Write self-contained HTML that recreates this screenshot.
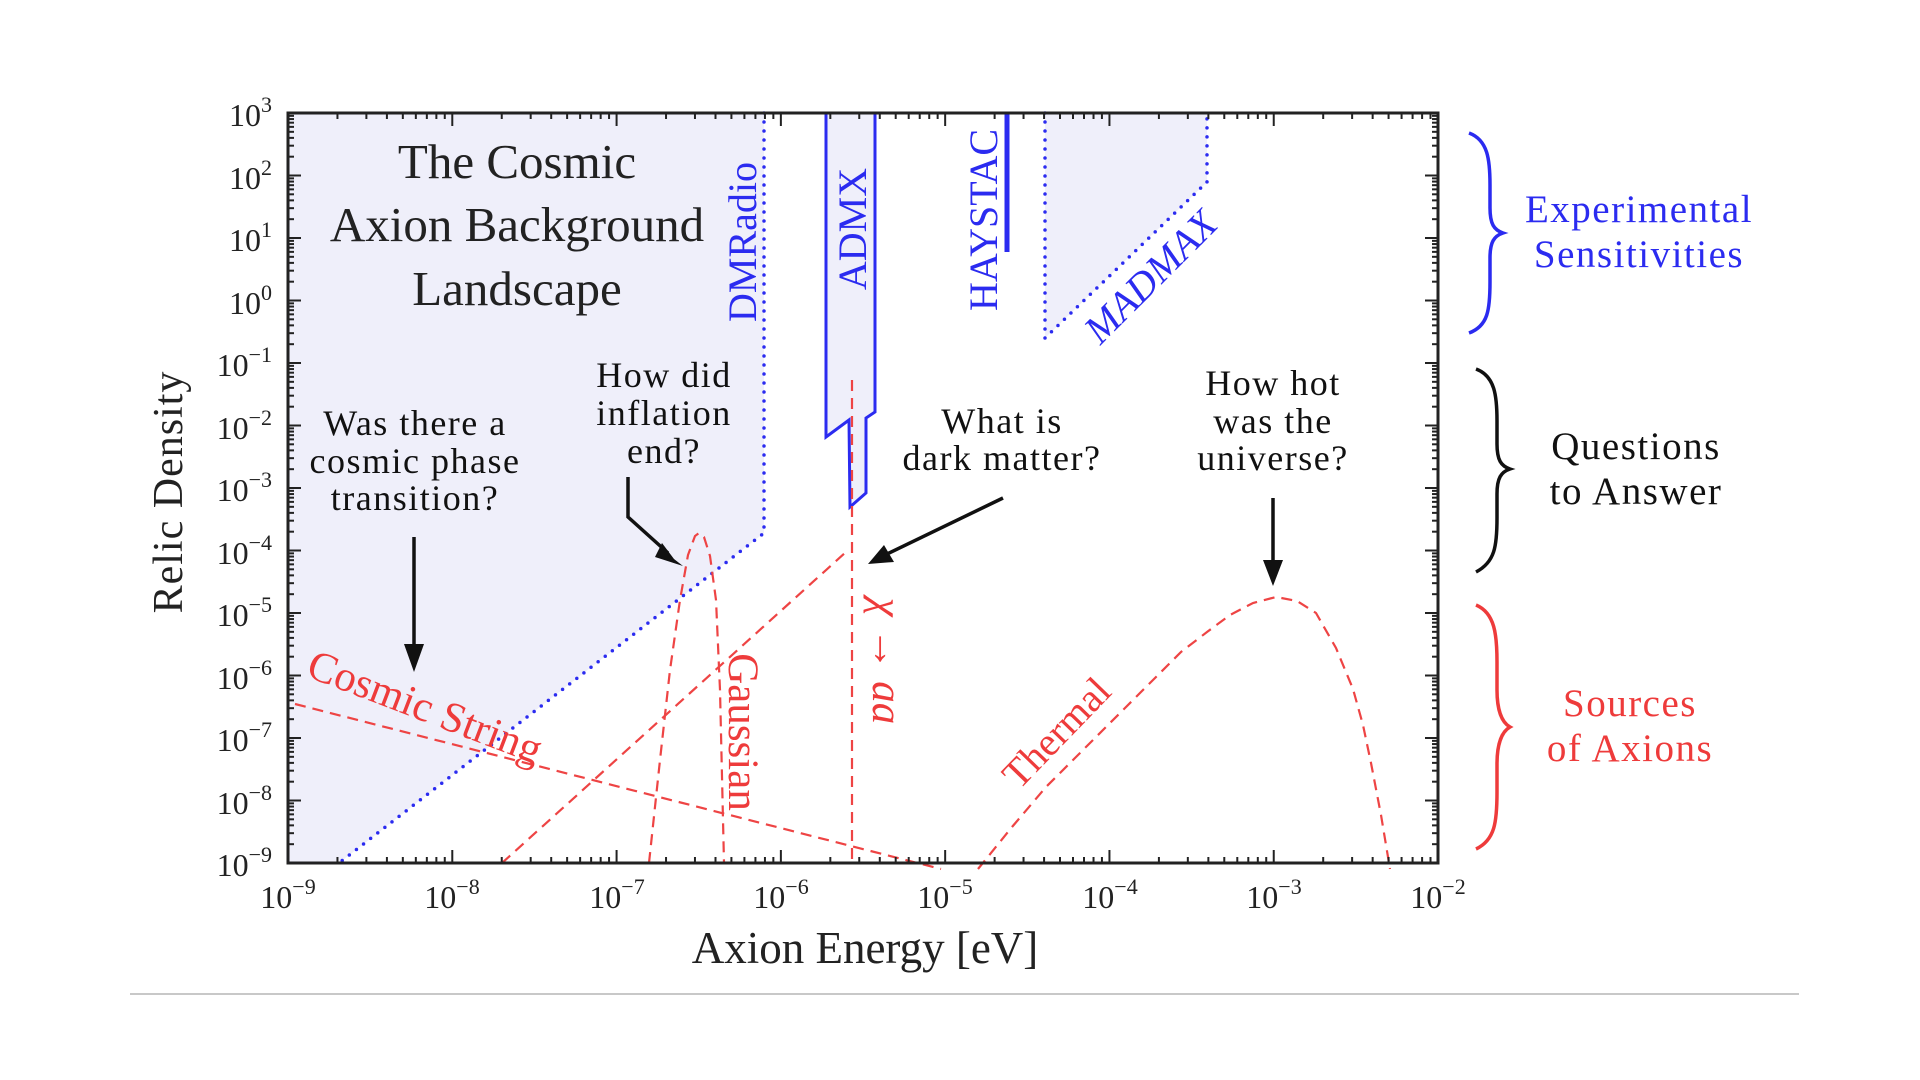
<!DOCTYPE html>
<html><head><meta charset="utf-8"><style>
html,body{margin:0;padding:0;background:#fff;width:1920px;height:1080px;overflow:hidden}
svg{display:block}
text{font-family:"Liberation Serif",serif}
</style></head><body>
<svg id="s" width="1920" height="1080" viewBox="0 0 1920 1080" xmlns="http://www.w3.org/2000/svg">
<line x1="130" y1="994" x2="1799" y2="994" stroke="#c8c8c8" stroke-width="2"/>
<polygon points="288,113 764,113 764,533 339,863 288,863" fill="#efeffa"/>
<polygon points="1045,113 1045,338 1207,182 1207,113" fill="#efeffa"/>
<polygon points="826,113 826,437 849,420 850,507 866,493 866,418 875,412 875,113" fill="#efeffa"/>
<g fill="none" stroke="#2b2bf0" stroke-width="3.5" stroke-linecap="round" stroke-dasharray="0 9">
<polyline points="764,113 764,533 339,863"/>
<polyline points="1045,113 1045,338 1207,182 1207,113"/>
</g>
<polyline points="826,113 826,437 849,420 850,507 866,493 866,418 875,412 875,113" fill="none" stroke="#2b2bf0" stroke-width="3"/>
<line x1="1007" y1="113" x2="1007" y2="252" stroke="#2b2bf0" stroke-width="5"/>
<g fill="none" stroke="#ee4444" stroke-width="2.2" stroke-dasharray="11 7">
<line x1="295" y1="704" x2="941" y2="869"/>
<line x1="502" y1="863" x2="846" y2="552"/>
<line x1="852" y1="380" x2="852" y2="863"/>
<polyline points="649,863 660,760 670,670 680,600 688,555 695,536 699,533 704,537 710,556 716,600 720,690 724,863"/>
<path d="M978,869 L1012,827 1046,787 1077,756 1107,726 1145,688 1181,652 1207,632 1230,615 1253,603 1276,597 1297,601 1316,613 1336,648 1353,689 1363,725 1371,763 1381,815 1390,869"/>
</g>
<rect x="288" y="113" width="1150" height="750" fill="none" stroke="#222" stroke-width="3"/>
<g id="ticks" stroke="#222" stroke-width="2"></g>
<g stroke="#111" stroke-width="3.5" fill="none">
<line x1="414" y1="537" x2="414" y2="650"/>
<polyline points="628,477 628,517 668,553"/>
<line x1="1003" y1="498" x2="887" y2="554"/>
<line x1="1273" y1="498" x2="1273" y2="565"/>
</g>
<g fill="#111">
<polygon points="404,644 424,644 414,672"/>
<polygon points="662,543 674,559 683,566 655,557 "/>
<polygon points="884,545 894,562 868,564"/>
<polygon points="1263,560 1283,560 1273,586"/>
</g>
<g font-size="32" fill="#222" text-anchor="middle">
<text x="288" y="908">10<tspan font-size="22" dy="-14">−9</tspan></text>
<text x="452" y="908">10<tspan font-size="22" dy="-14">−8</tspan></text>
<text x="617" y="908">10<tspan font-size="22" dy="-14">−7</tspan></text>
<text x="781" y="908">10<tspan font-size="22" dy="-14">−6</tspan></text>
<text x="945" y="908">10<tspan font-size="22" dy="-14">−5</tspan></text>
<text x="1110" y="908">10<tspan font-size="22" dy="-14">−4</tspan></text>
<text x="1274" y="908">10<tspan font-size="22" dy="-14">−3</tspan></text>
<text x="1438" y="908">10<tspan font-size="22" dy="-14">−2</tspan></text>
</g>
<g font-size="32" fill="#222" text-anchor="end">
<text x="272" y="126">10<tspan font-size="22" dy="-14">3</tspan></text>
<text x="272" y="189">10<tspan font-size="22" dy="-14">2</tspan></text>
<text x="272" y="251">10<tspan font-size="22" dy="-14">1</tspan></text>
<text x="272" y="314">10<tspan font-size="22" dy="-14">0</tspan></text>
<text x="272" y="376">10<tspan font-size="22" dy="-14">−1</tspan></text>
<text x="272" y="439">10<tspan font-size="22" dy="-14">−2</tspan></text>
<text x="272" y="501">10<tspan font-size="22" dy="-14">−3</tspan></text>
<text x="272" y="564">10<tspan font-size="22" dy="-14">−4</tspan></text>
<text x="272" y="626">10<tspan font-size="22" dy="-14">−5</tspan></text>
<text x="272" y="689">10<tspan font-size="22" dy="-14">−6</tspan></text>
<text x="272" y="751">10<tspan font-size="22" dy="-14">−7</tspan></text>
<text x="272" y="814">10<tspan font-size="22" dy="-14">−8</tspan></text>
<text x="272" y="876">10<tspan font-size="22" dy="-14">−9</tspan></text>
</g>
<text x="865" y="963" font-size="45" text-anchor="middle" fill="#222">Axion Energy [eV]</text>
<text transform="translate(182,492) rotate(-90)" font-size="42" text-anchor="middle" fill="#222" letter-spacing="1">Relic Density</text>
<g font-size="49" fill="#222" text-anchor="middle">
<text x="517" y="178">The Cosmic</text>
<text x="517" y="241">Axion Background</text>
<text x="517" y="305">Landscape</text>
</g>
<g font-size="36" fill="#111" text-anchor="middle" letter-spacing="1.5">
<text x="415" y="435">Was there a</text>
<text x="415" y="473">cosmic phase</text>
<text x="415" y="510">transition?</text>
<text x="664" y="387">How did</text>
<text x="664" y="425">inflation</text>
<text x="664" y="463">end?</text>
<text x="1002" y="433">What is</text>
<text x="1002" y="470">dark matter?</text>
<text x="1273" y="395">How hot</text>
<text x="1273" y="433">was the</text>
<text x="1273" y="470">universe?</text>
</g>
<g font-size="40" fill="#2b2bf0" text-anchor="middle">
<text transform="translate(756,242) rotate(-90)">DMRadio</text>
<text transform="translate(866,229) rotate(-90)">ADMX</text>
<text transform="translate(997,220) rotate(-90)">HAYSTAC</text>
<text transform="translate(1160,286) rotate(-45)" font-style="italic">MADMAX</text>
</g>
<g font-size="43" fill="#ee3b3b" text-anchor="middle">
<text transform="translate(420,720) rotate(21)">Cosmic String</text>
<text transform="translate(729,732) rotate(90)">Gaussian</text>
<text transform="translate(873,661) rotate(90)" font-style="italic">χ → aa</text>
<text transform="translate(1066,742) rotate(-46)" font-size="40">Thermal</text>
</g>
<g fill="none" stroke-width="3.5">
<path stroke="#2b2bf0" d="M1469,133 C1488,140 1490,160 1490,185 L1490,208 C1490,224 1494,230 1503,233 C1494,236 1490,242 1490,258 L1490,282 C1490,310 1488,326 1469,333"/>
<path stroke="#111" d="M1476,369 C1495,376 1497,396 1497,421 L1497,444 C1497,460 1501,466 1510,469 C1501,472 1497,478 1497,494 L1497,518 C1497,546 1495,562 1476,572"/>
<path stroke="#ee3b3b" d="M1476,605 C1495,613 1497,635 1497,662 L1497,690 C1497,708 1501,722 1510,727 C1501,732 1497,746 1497,764 L1497,792 C1497,822 1495,840 1476,849"/>
</g>
<g font-size="39" text-anchor="middle" letter-spacing="1.5">
<text x="1639" y="222" fill="#2b2bf0">Experimental</text>
<text x="1639" y="267" fill="#2b2bf0">Sensitivities</text>
<text x="1636" y="459" fill="#111">Questions</text>
<text x="1636" y="504" fill="#111">to Answer</text>
<text x="1630" y="716" fill="#ee3b3b">Sources</text>
<text x="1630" y="761" fill="#ee3b3b">of Axions</text>
</g>
</svg>
<script>
(function(){
var g=document.getElementById('ticks'),s='';
function L(a,b,c,d){s+='<line x1="'+a+'" y1="'+b+'" x2="'+c+'" y2="'+d+'"/>';}
var X0=288,X1=1438,Y0=113,Y1=863,dx=164.29,dy=62.5;
for(var i=0;i<7;i++)for(var k=1;k<10;k++){var x=X0+(i+Math.log10(k))*dx;var len=k==1?13:6;L(x,Y1,x,Y1-len);L(x,Y0,x,Y0+len);}
for(var i=0;i<12;i++)for(var k=1;k<10;k++){var y=Y1-(i+Math.log10(k))*dy;var len=k==1?13:6;L(X0,y,X0+len,y);L(X1,y,X1-len,y);}
g.innerHTML=s;
})();
</script>
</body></html>
